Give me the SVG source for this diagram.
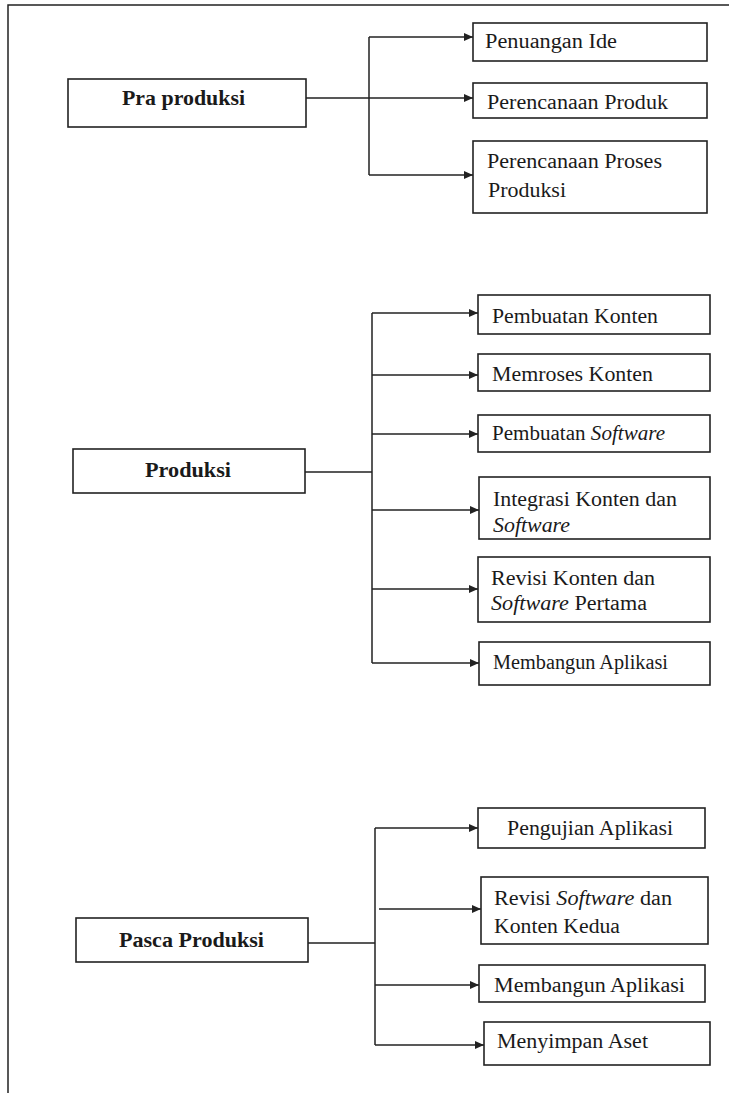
<svg xmlns="http://www.w3.org/2000/svg" width="729" height="1093" viewBox="0 0 729 1093">
<style>
.box{fill:#fff;stroke:#222;stroke-width:1.6}
.ln{fill:none;stroke:#222;stroke-width:1.5}
.ar{fill:none;stroke:#222;stroke-width:1.5;marker-end:url(#ah)}
.t{font-family:"Liberation Serif","Times New Roman",serif;font-size:20.5px;fill:#1a1a1a}
.b{font-family:"Liberation Serif","Times New Roman",serif;font-size:21.5px;font-weight:bold;fill:#1a1a1a}
.i{font-style:italic}
</style>
<defs>
<marker id="ah" markerUnits="userSpaceOnUse" markerWidth="9" markerHeight="8" refX="9" refY="4" orient="auto">
<path d="M0,0 L9,4 L0,8 z" fill="#222"/>
</marker>
</defs>
<rect width="729" height="1093" fill="#fff"/>
<g id="frame">
<path class="ln" d="M8,1093 V5 H729"/>
</g>
<g id="connectors">
<path class="ln" d="M306,98 H369 M369,37 V175"/>
<path class="ar" d="M369,37 H473"/>
<path class="ar" d="M369,98 H473"/>
<path class="ar" d="M369,175 H473"/>
<path class="ln" d="M305,472 H372 M372,313 V663"/>
<path class="ar" d="M372,313 H478"/>
<path class="ar" d="M372,375 H478"/>
<path class="ar" d="M372,434 H478"/>
<path class="ar" d="M372,510 H479"/>
<path class="ar" d="M372,589 H478"/>
<path class="ar" d="M372,663 H479"/>
<path class="ln" d="M308,943 H375 M375,828 V1045"/>
<path class="ar" d="M375,828 H478"/>
<path class="ar" d="M379,909 H481"/>
<path class="ar" d="M375,985 H479"/>
<path class="ar" d="M375,1045 H484"/>
</g>
<g id="pra">
<rect class="box" x="68" y="79" width="238" height="48"/>
<text class="b" x="122" y="105" textLength="123" lengthAdjust="spacingAndGlyphs">Pra produksi</text>
</g>
<g id="penuangan">
<rect class="box" x="473" y="23" width="234" height="38"/>
<text class="t" x="485" y="48" textLength="132" lengthAdjust="spacingAndGlyphs">Penuangan Ide</text>
</g>
<g id="perencanaan-produk">
<rect class="box" x="473" y="83" width="234" height="35"/>
<text class="t" x="487" y="109" textLength="181" lengthAdjust="spacingAndGlyphs">Perencanaan Produk</text>
</g>
<g id="perencanaan-proses">
<rect class="box" x="473" y="141" width="234" height="72"/>
<text class="t" x="487" y="168" textLength="175" lengthAdjust="spacingAndGlyphs">Perencanaan Proses</text>
<text class="t" x="488" y="197" textLength="78" lengthAdjust="spacingAndGlyphs">Produksi</text>
</g>
<g id="produksi">
<rect class="box" x="73" y="449" width="232" height="44"/>
<text class="b" x="145" y="477" textLength="86" lengthAdjust="spacingAndGlyphs">Produksi</text>
</g>
<g id="pembuatan-konten">
<rect class="box" x="478" y="295" width="232" height="39"/>
<text class="t" x="492" y="323" textLength="166" lengthAdjust="spacingAndGlyphs">Pembuatan Konten</text>
</g>
<g id="memroses-konten">
<rect class="box" x="478" y="354" width="232" height="37"/>
<text class="t" x="492" y="381" textLength="161" lengthAdjust="spacingAndGlyphs">Memroses Konten</text>
</g>
<g id="pembuatan-software">
<rect class="box" x="478" y="415" width="232" height="37"/>
<text class="t" x="492" y="440" textLength="173" lengthAdjust="spacingAndGlyphs">Pembuatan <tspan class="i">Software</tspan></text>
</g>
<g id="integrasi">
<rect class="box" x="479" y="477" width="231" height="62"/>
<text class="t" x="493" y="506" textLength="184" lengthAdjust="spacingAndGlyphs">Integrasi Konten dan</text>
<text class="t i" x="493" y="532" textLength="77" lengthAdjust="spacingAndGlyphs">Software</text>
</g>
<g id="revisi-pertama">
<rect class="box" x="478" y="557" width="232" height="65"/>
<text class="t" x="491" y="585" textLength="164" lengthAdjust="spacingAndGlyphs">Revisi Konten dan</text>
<text class="t" x="491" y="610" textLength="156" lengthAdjust="spacingAndGlyphs"><tspan class="i">Software</tspan> Pertama</text>
</g>
<g id="membangun-1">
<rect class="box" x="479" y="642" width="231" height="43"/>
<text class="t" x="493" y="669" textLength="175" lengthAdjust="spacingAndGlyphs">Membangun Aplikasi</text>
</g>
<g id="pasca">
<rect class="box" x="76" y="918" width="232" height="44"/>
<text class="b" x="119" y="947" textLength="145" lengthAdjust="spacingAndGlyphs">Pasca Produksi</text>
</g>
<g id="pengujian">
<rect class="box" x="478" y="808" width="227" height="40"/>
<text class="t" x="507" y="835" textLength="166" lengthAdjust="spacingAndGlyphs">Pengujian Aplikasi</text>
</g>
<g id="revisi-kedua">
<rect class="box" x="481" y="877" width="227" height="67"/>
<text class="t" x="494" y="905" textLength="178" lengthAdjust="spacingAndGlyphs">Revisi <tspan class="i">Software</tspan> dan</text>
<text class="t" x="494" y="933" textLength="126" lengthAdjust="spacingAndGlyphs">Konten Kedua</text>
</g>
<g id="membangun-2">
<rect class="box" x="479" y="965" width="226" height="37"/>
<text class="t" x="494" y="992" textLength="191" lengthAdjust="spacingAndGlyphs">Membangun Aplikasi</text>
</g>
<g id="menyimpan">
<rect class="box" x="484" y="1022" width="226" height="43"/>
<text class="t" x="497" y="1048" textLength="151" lengthAdjust="spacingAndGlyphs">Menyimpan Aset</text>
</g>
</svg>
